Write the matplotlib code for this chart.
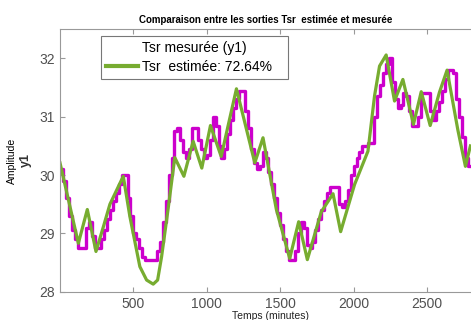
import numpy as np
from matplotlib import pyplot as plt
from matplotlib.lines import Line2D

plt.rcParams['font.family'] = ['Liberation Sans', 'DejaVu Sans']

# measured Tsr (y1), one value every 20 minutes, drawn as steps
t_mes = list(range(0, 2801, 20))
y_mes = [30.1, 29.9, 29.6, 29.3, 29.05, 28.9, 28.75, 28.75, 28.75, 29.1,
         29.2, 28.95, 28.75, 28.75, 28.9, 29.05, 29.25, 29.4, 29.55, 29.7,
         29.85, 30.0, 30.0, 29.6, 29.3, 29.0, 28.9, 28.75, 28.6, 28.55,
         28.55, 28.55, 28.55, 28.7, 28.85, 29.2, 29.55, 30.0, 30.3, 30.75,
         30.8, 30.6, 30.4, 30.3, 30.45, 30.8, 30.8, 30.6, 30.45, 30.3,
         30.35, 30.6, 31.0, 30.85, 30.5, 30.3, 30.45, 30.7, 30.95, 31.15,
         31.3, 31.45, 31.45, 31.1, 30.8, 30.45, 30.2, 30.1, 30.15, 30.4,
         30.3, 30.05, 29.85, 29.6, 29.35, 29.15, 28.9, 28.7, 28.55, 28.55,
         28.7, 29.0, 29.2, 29.1, 28.8, 28.75, 28.85, 29.05, 29.25, 29.4,
         29.55, 29.7, 29.8, 29.8, 29.8, 29.5, 29.45, 29.55, 29.75, 30.0,
         30.15, 30.3, 30.4, 30.5, 30.5, 30.55, 30.55, 31.0, 31.35, 31.55,
         31.75, 31.9, 32.0, 31.6, 31.3, 31.15, 31.2, 31.4, 31.35, 31.1,
         30.85, 30.85, 31.0, 31.4, 31.4, 31.4, 31.1, 30.95, 31.1, 31.25,
         31.45, 31.65, 31.8, 31.8, 31.75, 31.3, 31.0, 30.65, 30.3, 30.15,
         30.15]

# estimated Tsr (model output)
t_est = [0, 125, 186, 245, 295, 340, 431, 476, 544, 590, 635, 665, 692, 737,
         782, 844, 907, 966, 1025, 1098, 1202, 1327, 1383, 1474, 1565, 1626,
         1685, 1780, 1860, 1912, 2007, 2098, 2143, 2177, 2222, 2279, 2336,
         2408, 2461, 2522, 2585, 2637, 2710, 2762, 2796]
y_est = [30.21, 28.83, 29.41, 28.69, 29.11, 29.5, 29.98, 29.29, 28.43, 28.2,
         28.13, 28.2, 28.6, 29.43, 30.3, 29.98, 30.58, 30.12, 30.85, 30.32,
         31.48, 30.21, 30.64, 29.41, 28.57, 29.2, 28.55, 29.37, 29.68, 29.03,
         29.84, 30.41, 31.36, 31.87, 32.06, 31.27, 31.64, 30.87, 31.43, 30.85,
         31.42, 31.8, 30.78, 30.15, 30.5]

xticks = [500, 1000, 1500, 2000, 2500]
yticks = [28, 29, 30, 31, 32]

fig = plt.figure(figsize=(4.71, 3.2), dpi=100)
ax = fig.add_axes([0.1274, 0.0884, 0.8726, 0.8200])

ax.plot(t_mes, y_mes, color='#CC00CC', lw=2.4, drawstyle='steps-post')
ax.plot(t_est, y_est, color='#77AC30', lw=2.3)

ax.set_xlim(0, 2800)
ax.set_ylim(28, 32.5)
ax.set_xticks(xticks)
ax.set_yticks(yticks)
ax.tick_params(direction='in', length=3.5, width=0.8, colors='#999999',
               labelcolor='#505050', labelsize=10, top=True)
for s in ['left', 'bottom', 'top']:
    ax.spines[s].set_color('#999999')
    ax.spines[s].set_linewidth(0.8)
ax.spines['right'].set_visible(False)

ax.set_title('Comparaison entre les sorties Tsr  estimée et mesurée',
             fontsize=7, fontweight='bold', pad=4.5)
ax.set_xlabel('Temps (minutes)', fontsize=7.5, color='#222222')
ax.xaxis.set_label_coords(0.511, -0.072)

fig.text(12 / 471, 1 - 161 / 320, 'Amplitude', rotation=90, fontsize=7.5,
         ha='center', va='center')
fig.text(25.5 / 471, 1 - 160 / 320, 'y1', rotation=90, fontsize=9,
         fontweight='bold', color='#333333', ha='center', va='center')

handles = [Line2D([], [], color='none', lw=2.3),
           Line2D([], [], color='#77AC30', lw=3)]
leg = ax.legend(handles, ['Tsr mesurée (y1)', 'Tsr  estimée: 72.64%   '],
                loc='upper left', bbox_to_anchor=(0.0998, 0.9745),
                borderaxespad=0, fontsize=10, frameon=True, fancybox=False,
                handlelength=2.3, handletextpad=0.3, labelspacing=0.35,
                borderpad=0.35)
leg.get_frame().set_edgecolor('#555555')
leg.get_frame().set_linewidth(0.8)

plt.savefig('out.png', dpi=100)
